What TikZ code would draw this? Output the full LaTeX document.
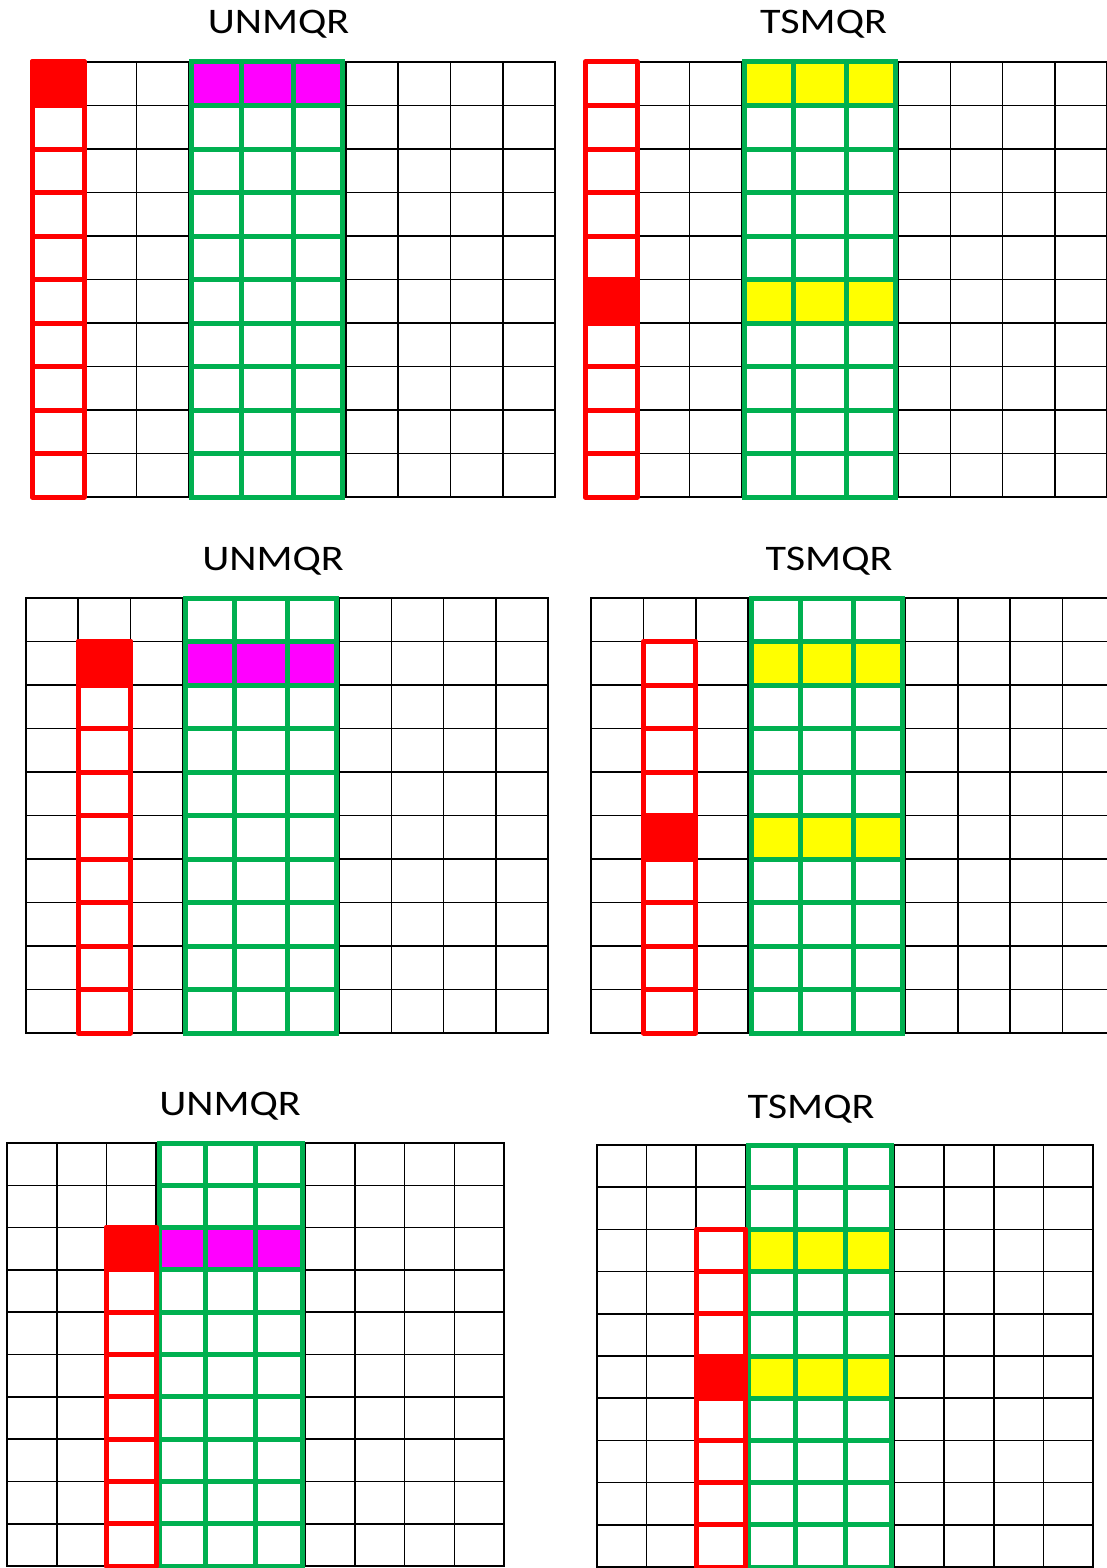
\documentclass[tikz,border=0pt]{standalone}
\usepackage{fontspec}
\setmainfont{Carlito}
\usepackage{graphicx}
\definecolor{qgreen}{HTML}{00B050}
\definecolor{qred}{HTML}{FF0000}
\definecolor{qmag}{HTML}{FF00FF}
\definecolor{qyel}{HTML}{FFFF00}
\tikzset{
  gridline/.style={draw=black, line width=1.6pt},
  greenline/.style={draw=qgreen, line width=5pt, line cap=rect},
  redline/.style={draw=qred, line width=5pt, line join=round},
  paneltitle/.style={inner sep=0pt, anchor=base, font=\fontsize{36}{36}\selectfont},
}
% #1 x0, #2 y0, #3 dx, #4 dy, #5 red column, #6 filled red row, #7 highlight colour, #8 highlight rows, #9 border width
\newcommand\qrpanel[9]{%
  \foreach \r in {#8} {\fill[#7] ({#1+3*#3},{#2+\r*#4}) rectangle ({#1+6*#3},{#2+(\r+1)*#4});}
  \foreach \i in {0,...,10} {
    \draw[gridline] ({#1+\i*#3},#2) -- ({#1+\i*#3},{#2+10*#4});
    \draw[gridline] (#1,{#2+\i*#4}) -- ({#1+10*#3},{#2+\i*#4});
  }
  \draw[draw=black, line width=#9] (#1,#2) rectangle ({#1+10*#3},{#2+10*#4});
  \foreach \i in {0,...,10} {\draw[greenline] ({#1+3*#3+3},{#2+\i*#4}) -- ({#1+6*#3-3},{#2+\i*#4});}
  \draw[greenline] ({#1+3*#3+3},#2) -- ({#1+3*#3+3},{#2+10*#4});
  \draw[greenline] ({#1+4*#3},#2) -- ({#1+4*#3},{#2+10*#4});
  \draw[greenline] ({#1+5*#3},#2) -- ({#1+5*#3},{#2+10*#4});
  \draw[greenline] ({#1+6*#3-3},#2) -- ({#1+6*#3-3},{#2+10*#4});
  \foreach \r in {#5,...,9} {\draw[redline] ({#1+#5*#3},{#2+\r*#4}) rectangle ({#1+(#5+1)*#3},{#2+(\r+1)*#4});}
  \filldraw[redline, fill=qred] ({#1+#5*#3},{#2+#6*#4}) rectangle ({#1+(#5+1)*#3},{#2+(#6+1)*#4});
}
\begin{document}
\begin{tikzpicture}[x=1pt, y=-1pt]
\useasboundingbox[fill=white] (0,0) rectangle (1107,1568);

\node[paneltitle] (t1) at (278.5,33.3) {\scalebox{1.17}[1]{UNMQR}};
\node[paneltitle] (t2) at (823.5,33.3) {\scalebox{1.17}[1]{TSMQR}};
\node[paneltitle] (t3) at (273,570) {\scalebox{1.17}[1]{UNMQR}};
\node[paneltitle] (t4) at (829,570.5) {\scalebox{1.17}[1]{TSMQR}};
\node[paneltitle] (t5) at (230,1115) {\scalebox{1.17}[1]{UNMQR}};
\node[paneltitle] (t6) at (811,1118) {\scalebox{1.17}[1]{TSMQR}};

\qrpanel{32}{62}{52.3}{43.5}{0}{0}{qmag}{0}{1.6pt}
\qrpanel{585}{62}{52.2}{43.5}{0}{5}{qyel}{0,5}{1.6pt}
\qrpanel{26}{598}{52.2}{43.5}{1}{1}{qmag}{1}{2.4pt}
\qrpanel{591}{598}{52.4}{43.5}{1}{5}{qyel}{1,5}{2.4pt}
\qrpanel{7}{1143}{49.7}{42.3}{2}{2}{qmag}{2}{1.6pt}
\qrpanel{597}{1145}{49.6}{42.2}{2}{5}{qyel}{2,5}{1.6pt}
\end{tikzpicture}
\end{document}
